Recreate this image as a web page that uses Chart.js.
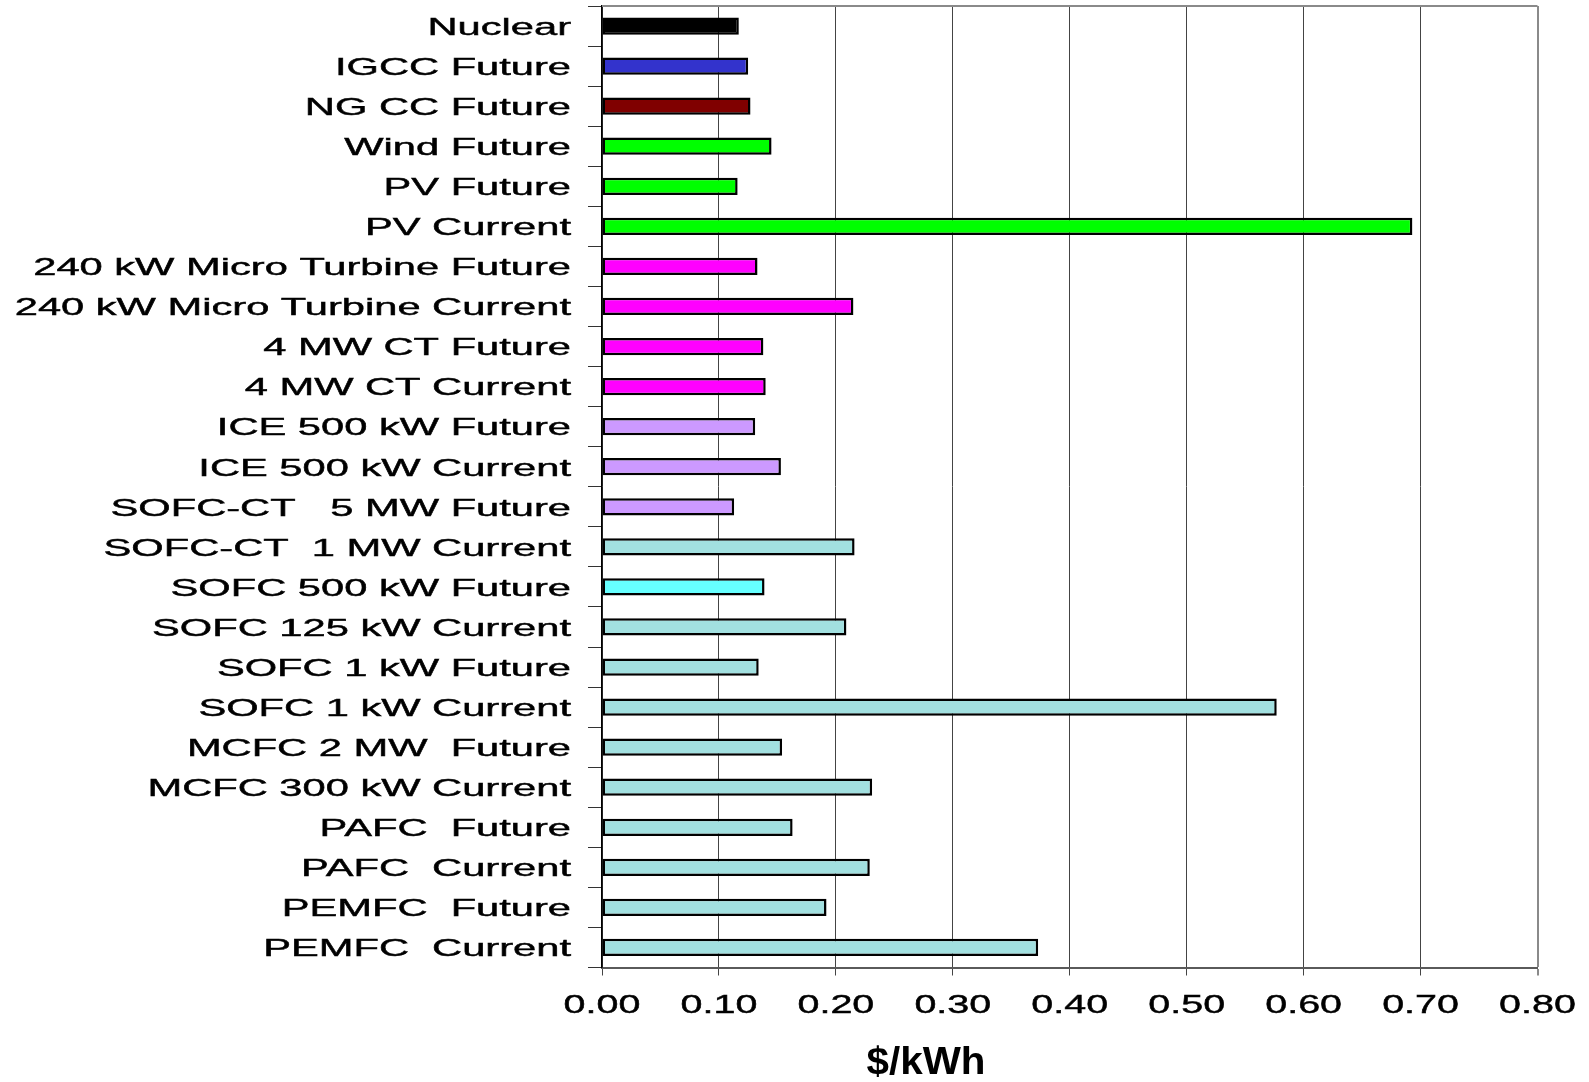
<!DOCTYPE html>
<html>
<head>
<meta charset="utf-8">
<title>Cost of electricity by technology</title>
<script src="https://cdn.jsdelivr.net/npm/chart.js@4/dist/chart.umd.min.js"></script>
<style>
  html, body { margin: 0; padding: 0; background: #fff; }
  #wrap { width: 1589px; height: 1082px; position: relative; }
</style>
</head>
<body>
<div id="wrap"><canvas id="c" width="1589" height="1082"></canvas></div>
<script>
// Technologies, top to bottom
const categories = [
  'Nuclear', 'IGCC Future', 'NG CC Future', 'Wind Future', 'PV Future', 'PV Current',
  '240 kW Micro Turbine Future', '240 kW Micro Turbine Current',
  '4 MW CT Future', '4 MW CT Current',
  'ICE 500 kW Future', 'ICE 500 kW Current',
  'SOFC-CT   5 MW Future', 'SOFC-CT  1 MW Current',
  'SOFC 500 kW Future', 'SOFC 125 kW Current',
  'SOFC 1 kW Future', 'SOFC 1 kW Current',
  'MCFC 2 MW  Future', 'MCFC 300 kW Current',
  'PAFC  Future', 'PAFC  Current',
  'PEMFC  Future', 'PEMFC  Current'
];

// Cost of electricity, $/kWh
const costs = [
  0.117, 0.125, 0.127, 0.145, 0.116, 0.693,
  0.133, 0.215,
  0.138, 0.140,
  0.131, 0.153,
  0.113, 0.216,
  0.139, 0.209,
  0.134, 0.577,
  0.154, 0.231,
  0.163, 0.229,
  0.192, 0.373
];

// Fill colour per technology group
const barColors = [
  '#000000', '#3333CC', '#800000', '#00FF00', '#00FF00', '#00FF00',
  '#FF00FF', '#FF00FF', '#FF00FF', '#FF00FF',
  '#CC99FF', '#CC99FF', '#CC99FF',
  '#A2E0E0', '#66FFFF',
  '#A2E0E0', '#A2E0E0', '#A2E0E0', '#A2E0E0', '#A2E0E0',
  '#A2E0E0', '#A2E0E0', '#A2E0E0', '#A2E0E0'
];

const xTickValues = [0, 0.1, 0.2, 0.3, 0.4, 0.5, 0.6, 0.7, 0.8];
const axisTitle = '$/kWh';

const FONT = '"Liberation Sans", Arial, Helvetica, sans-serif';

// Draws the wide-set category labels, value labels and axis title, plus the frame top.
const textPlugin = {
  id: 'wideText',
  afterDraw(chart) {
    const ctx = chart.ctx;
    const area = chart.chartArea;
    const xs = chart.scales.x;
    const ys = chart.scales.y;

    // frame line along the top of the plot
    ctx.save();
    ctx.strokeStyle = '#8a8a8a';
    ctx.lineWidth = 2;
    ctx.beginPath();
    ctx.moveTo(area.left, area.top);
    ctx.lineTo(area.right, area.top);
    ctx.stroke();
    ctx.restore();

    // category labels
    ctx.save();
    ctx.fillStyle = '#000';
    ctx.strokeStyle = '#000';
    ctx.lineWidth = 0.45;
    ctx.font = '24.5px ' + FONT;
    ctx.textAlign = 'right';
    ctx.textBaseline = 'alphabetic';
    categories.forEach((label, i) => {
      const y = ys.getPixelForValue(i);
      ctx.save();
      ctx.translate(571, y + 8.8);
      ctx.scale(1.70, 1);
      ctx.fillText(label, 0, 0);
      ctx.strokeText(label, 0, 0);
      ctx.restore();
    });
    ctx.restore();

    // value axis labels
    ctx.save();
    ctx.fillStyle = '#000';
    ctx.strokeStyle = '#000';
    ctx.lineWidth = 0.45;
    ctx.font = '26.5px ' + FONT;
    ctx.textAlign = 'center';
    ctx.textBaseline = 'alphabetic';
    xTickValues.forEach(v => {
      const x = xs.getPixelForValue(v);
      ctx.save();
      ctx.translate(x, 1013.3);
      ctx.scale(1.49, 1);
      ctx.fillText(v.toFixed(2), 0, 0);
      ctx.strokeText(v.toFixed(2), 0, 0);
      ctx.restore();
    });
    ctx.restore();

    // axis title
    ctx.save();
    ctx.fillStyle = '#000';
    ctx.font = 'bold 38.5px ' + FONT;
    ctx.textAlign = 'center';
    ctx.textBaseline = 'alphabetic';
    ctx.translate(926, 1073.5);
    ctx.scale(1.05, 1);
    ctx.fillText(axisTitle, 0, 0);
    ctx.restore();
  }
};

new Chart(document.getElementById('c'), {
  type: 'bar',
  data: {
    labels: categories,
    datasets: [{
      data: costs,
      backgroundColor: barColors,
      borderColor: '#000',
      borderWidth: 2.5,
      borderSkipped: false,
      barPercentage: 0.43,
      categoryPercentage: 1.0
    }]
  },
  options: {
    indexAxis: 'y',
    responsive: false,
    animation: false,
    devicePixelRatio: 1,
    layout: { padding: { top: 6, right: 51.5, bottom: 0, left: 0 } },
    plugins: {
      legend: { display: false },
      tooltip: { enabled: false },
      title: { display: false }
    },
    scales: {
      x: {
        type: 'linear',
        min: 0,
        max: 0.8,
        ticks: { display: false, stepSize: 0.1 },
        grid: {
          display: true,
          drawOnChartArea: true,
          drawTicks: true,
          tickLength: 8,
          color: (c) => (c.tick && Math.abs(c.tick.value - 0.8) < 1e-6) ? '#8a8a8a' : '#444',
          lineWidth: (c) => (c.tick && Math.abs(c.tick.value - 0.8) < 1e-6) ? 2 : 1
        },
        border: { display: true, color: '#5a5a5a', width: 2 },
        afterFit(scale) { scale.height = 114.5; }
      },
      y: {
        type: 'category',
        ticks: { display: false },
        grid: {
          display: true,
          offset: true,
          drawOnChartArea: false,
          drawTicks: true,
          tickLength: 14,
          color: '#333',
          lineWidth: 1
        },
        border: { display: true, color: '#000', width: 1.5 },
        afterFit(scale) { scale.width = 602; }
      }
    }
  },
  plugins: [textPlugin]
});
</script>
</body>
</html>
